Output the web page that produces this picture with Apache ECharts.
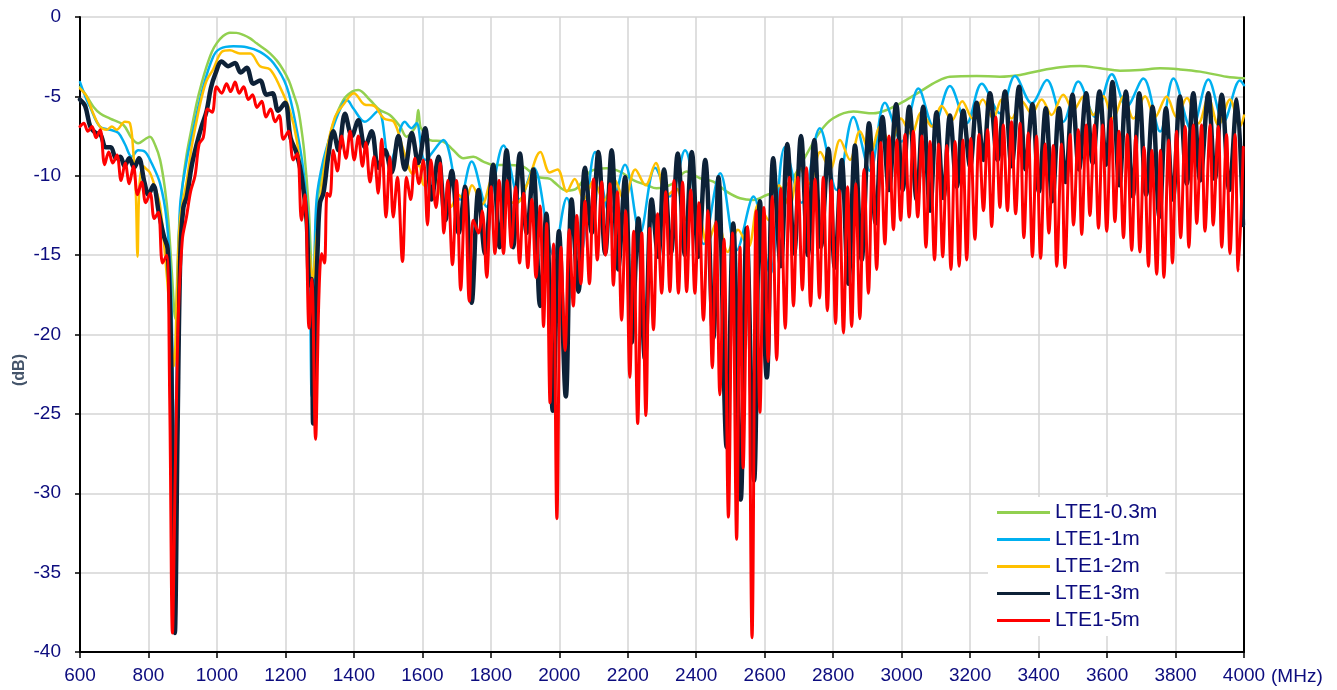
<!DOCTYPE html>
<html>
<head>
<meta charset="utf-8">
<title>LTE1 cable loss</title>
<script src="https://cdn.jsdelivr.net/npm/echarts@6/dist/echarts.min.js"></script>
<style>
  html, body { margin: 0; padding: 0; background: #fff; }
  #chart { width: 1337px; height: 690px; }
</style>
</head>
<body>
<div id="chart"></div>
<script>
// Frequency axis ticks (MHz) and level axis ticks (dB)
const xTicks = { min: 600, max: 4000, step: 200 };
const yTicks = { min: -40, max: 0, step: 5 };

const seriesNames = ['LTE1-0.3m', 'LTE1-1m', 'LTE1-2m', 'LTE1-3m', 'LTE1-5m'];

// Each series: [frequency MHz, level dB]
const lte03m = [[600,-4.4],[620,-5.0],[639,-5.65],[660,-6.1],[688,-6.4],[727,-6.8],[750,-7.6],[770,-7.96],[790,-7.7],[804,-7.54],[820,-8.1],[834,-9.0],[848,-10.8],[858,-12.8],[868,-16],[878,-19],[888,-14],[900,-10.5],[912,-8.6],[926,-7.0],[941,-5.4],[955,-4.2],[970,-3.1],[985,-2.2],[999,-1.66],[1018,-1.2],[1038,-0.99],[1057,-1.0],[1077,-1.13],[1097,-1.35],[1116,-1.66],[1135,-1.95],[1155,-2.29],[1175,-2.75],[1194,-3.34],[1210,-4.0],[1223,-4.8],[1235,-5.6],[1243,-6.5],[1255,-8.5],[1268,-12],[1280,-17],[1292,-12],[1305,-10],[1320,-8.5],[1340,-6.7],[1369,-5.23],[1395,-4.7],[1413,-4.6],[1447,-5.23],[1476,-5.86],[1505,-6.17],[1535,-6.9],[1554,-7.54],[1574,-7.12],[1582,-6.8],[1588,-5.86],[1594,-6.9],[1600,-7.12],[1622,-7.75],[1661,-7.85],[1690,-8.38],[1720,-8.9],[1749,-8.8],[1778,-9.11],[1807,-9.32],[1856,-9.32],[1895,-9.43],[1934,-10.06],[1973,-10.2],[1983,-10.37],[2022,-10.94],[2051,-10.79],[2090,-9.74],[2138,-9.53],[2177,-9.74],[2216,-10.27],[2255,-10.58],[2284,-10.79],[2333,-10.48],[2372,-9.74],[2411,-10.16],[2450,-10.37],[2489,-11.0],[2528,-11.42],[2567,-11.53],[2606,-11.21],[2645,-10.9],[2680,-10.2],[2713,-9.0],[2762,-7.22],[2800,-6.38],[2859,-5.96],[2917,-6.07],[2956,-5.86],[3005,-5.33],[3054,-4.7],[3102,-4.07],[3141,-3.76],[3219,-3.72],[3287,-3.76],[3346,-3.65],[3404,-3.38],[3463,-3.17],[3521,-3.09],[3580,-3.23],[3638,-3.38],[3696,-3.34],[3755,-3.23],[3813,-3.3],[3872,-3.44],[3949,-3.76],[4000,-3.86]];

const lte1m = [[600,-4.1],[619,-5.2],[629,-5.65],[658,-6.9],[688,-7.1],[712,-7.3],[731,-8.0],[751,-8.8],[770,-8.4],[790,-8.5],[809,-9.2],[834,-10.5],[853,-12.8],[866,-17],[876,-29],[884,-20],[892,-12.0],[912,-9.0],[931,-7.1],[960,-4.4],[989,-2.5],[1009,-2.0],[1048,-1.85],[1087,-1.9],[1126,-2.2],[1165,-2.9],[1204,-4.4],[1233,-7.1],[1252,-9.6],[1268,-13.5],[1277,-23.9],[1285,-16],[1291,-11.5],[1311,-9.0],[1340,-6.9],[1369,-5.4],[1380,-5.25],[1398,-5.75],[1432,-6.6],[1471,-5.9],[1505,-9.2],[1549,-6.6],[1568,-7.0],[1583,-6.7],[1608,-9.0],[1661,-7.75],[1710,-11.5],[1744,-9.1],[1788,-11.95],[1837,-8.1],[1885,-11.5],[1925,-9.5],[1983,-15.0],[2022,-11.4],[2060,-15.1],[2105,-8.5],[2148,-12.4],[2192,-9.3],[2236,-13.6],[2280,-9.5],[2323,-11.3],[2367,-8.4],[2421,-14.3],[2470,-9.85],[2518,-14.7],[2567,-11.3],[2616,-16.2],[2659,-8.2],[2708,-11.7],[2761,-7.0],[2810,-10.9],[2859,-6.3],[2908,-9.7],[2951,-5.4],[3000,-7.85],[3049,-4.5],[3093,-6.9],[3141,-4.35],[3190,-6.7],[3234,-4.2],[3287,-6.07],[3331,-3.72],[3380,-5.44],[3424,-3.97],[3472,-6.6],[3516,-4.07],[3565,-6.28],[3614,-3.6],[3657,-5.65],[3706,-3.87],[3755,-7.22],[3794,-3.87],[3847,-7.12],[3896,-3.93],[3940,-6.6],[3988,-4.0],[4000,-4.3]];

const lte2m = [[600,-4.5],[619,-5.0],[639,-6.1],[658,-6.9],[678,-7.1],[693,-6.9],[707,-7.1],[731,-6.6],[746,-6.7],[756,-8.6],[763,-11],[768,-15.1],[774,-10.5],[785,-9.4],[795,-9.6],[804,-9.8],[819,-10.7],[834,-11.9],[848,-14.9],[860,-18],[874,-22],[884,-17],[892,-12.8],[912,-10.3],[926,-8.2],[941,-6.5],[955,-5.1],[970,-4.0],[989,-3.3],[1014,-2.2],[1038,-2.1],[1067,-2.3],[1097,-2.3],[1126,-3.1],[1155,-3.3],[1184,-4.4],[1213,-5.9],[1233,-7.75],[1252,-11.1],[1268,-14.5],[1280,-16.5],[1290,-14],[1300,-12],[1320,-8.5],[1345,-6.3],[1370,-5.5],[1400,-4.8],[1430,-5.5],[1459,-5.6],[1488,-6.4],[1517,-6.6],[1545,-8.4],[1573,-9.9],[1590,-9.3],[1605,-10.6],[1630,-9.9],[1660,-11.5],[1681,-12.0],[1705,-11.2],[1725,-11.6],[1745,-10.6],[1775,-11.8],[1805,-10.2],[1840,-11.6],[1876,-11.7],[1905,-10.6],[1945,-8.5],[1972,-9.8],[1995,-9.6],[2022,-11.0],[2045,-10.2],[2072,-11.5],[2100,-10.3],[2130,-11.6],[2160,-10.2],[2190,-11.6],[2222,-9.6],[2252,-10.6],[2282,-9.2],[2312,-11.3],[2342,-10.8],[2372,-12.8],[2402,-12.0],[2432,-14.3],[2462,-12.8],[2492,-14.8],[2522,-13.4],[2552,-14.5],[2582,-11.8],[2612,-12.8],[2642,-10.6],[2672,-11.9],[2702,-9.5],[2732,-10.5],[2762,-8.5],[2791,-9.6],[2820,-7.75],[2849,-9.0],[2878,-7.2],[2908,-8.6],[2938,-6.9],[2968,-8.0],[2998,-6.4],[3028,-7.4],[3058,-6.0],[3088,-6.9],[3117,-5.6],[3147,-6.5],[3177,-5.3],[3207,-6.4],[3237,-5.2],[3267,-6.4],[3292,-5.2],[3321,-6.4],[3351,-5.3],[3380,-6.07],[3409,-5.2],[3438,-6.17],[3472,-4.9],[3502,-5.86],[3531,-5.0],[3560,-6.17],[3589,-5.0],[3618,-6.4],[3648,-5.0],[3677,-6.4],[3711,-5.0],[3740,-6.3],[3774,-5.0],[3803,-6.3],[3833,-5.1],[3867,-6.7],[3896,-5.1],[3925,-6.8],[3959,-5.2],[3988,-6.9],[4000,-6.2]];

const lte3m = [[600,-5.2],[615,-5.6],[630,-6.9],[645,-7.3],[660,-7.4],[675,-8.2],[690,-8.2],[705,-8.9],[718,-8.8],[730,-9.4],[744,-8.9],[758,-9.5],[772,-8.9],[788,-10.4],[800,-11.2],[814,-10.6],[830,-12.3],[845,-13.8],[856,-14.6],[866,-21],[877,-38.8],[885,-26],[893,-15],[902,-12.0],[912,-11.3],[926,-9.4],[941,-8.0],[955,-6.9],[970,-5.9],[982,-4.5],[995,-3.6],[1014,-2.8],[1033,-3.1],[1053,-2.9],[1069,-3.5],[1087,-3.2],[1106,-4.2],[1126,-4.0],[1145,-4.9],[1162,-4.8],[1179,-5.9],[1199,-5.4],[1215,-7.6],[1233,-8.6],[1248,-10.1],[1262,-12.8],[1270,-16.9],[1276,-16.5],[1281,-25.6],[1288,-19],[1295,-14],[1301,-11.7],[1311,-11.1],[1325,-8.8],[1340,-7.2],[1355,-8.4],[1374,-6.1],[1394,-7.5],[1413,-6.5],[1432,-8.2],[1452,-7.2],[1471,-9.5],[1491,-8.4],[1510,-9.8],[1530,-7.5],[1549,-9.6],[1569,-7.3],[1588,-9.2],[1608,-7.0],[1627,-11.5],[1647,-8.8],[1667,-12.8],[1686,-9.7],[1706,-13.6],[1725,-10.7],[1744,-18.0],[1764,-10.9],[1783,-14.9],[1807,-9.3],[1826,-14.5],[1846,-8.4],[1865,-14.5],[1885,-8.6],[1905,-13.6],[1924,-9.6],[1944,-18.2],[1962,-12.4],[1981,-24.8],[1999,-13.5],[2019,-23.9],[2036,-11.5],[2056,-17.3],[2075,-9.5],[2095,-13.6],[2114,-8.5],[2134,-14.9],[2153,-8.4],[2172,-15.9],[2192,-10.1],[2211,-20.5],[2231,-12.7],[2250,-21.5],[2270,-11.5],[2289,-15.1],[2306,-9.6],[2326,-14.9],[2346,-8.6],[2367,-15.0],[2387,-8.5],[2406,-15.1],[2426,-9.0],[2450,-20.2],[2465,-10.1],[2489,-27.1],[2508,-13.0],[2530,-30.4],[2547,-13.3],[2569,-29.2],[2586,-11.6],[2606,-22.7],[2625,-8.9],[2647,-15.7],[2666,-8.0],[2686,-14.9],[2706,-7.5],[2726,-15.0],[2745,-7.75],[2764,-14.5],[2786,-8.3],[2805,-15.8],[2825,-9.0],[2844,-16.8],[2864,-8.1],[2883,-15.3],[2905,-6.7],[2924,-13.0],[2944,-6.3],[2963,-10.9],[2984,-5.5],[3003,-10.9],[3022,-5.65],[3044,-11.5],[3063,-5.65],[3083,-12.2],[3102,-6.0],[3122,-11.4],[3141,-6.2],[3161,-10.7],[3180,-5.9],[3200,-9.4],[3219,-5.4],[3239,-9.0],[3258,-4.8],[3280,-9.0],[3302,-4.7],[3321,-9.4],[3343,-4.4],[3362,-9.6],[3382,-5.5],[3401,-11.0],[3421,-5.75],[3440,-11.6],[3460,-5.75],[3479,-10.4],[3499,-4.9],[3518,-9.6],[3539,-4.8],[3558,-9.2],[3578,-4.7],[3597,-9.3],[3616,-4.1],[3636,-10.6],[3655,-4.7],[3675,-11.3],[3694,-4.8],[3714,-11.2],[3733,-5.65],[3753,-12.6],[3772,-5.75],[3792,-11.5],[3813,-5.0],[3833,-10.5],[3852,-4.8],[3872,-10.3],[3896,-4.8],[3915,-10.2],[3935,-4.9],[3957,-10.9],[3979,-5.2],[3997,-13.1]];

const lte5m = [[600,-6.9],[611,-6.7],[623,-7.2],[635,-6.9],[647,-7.6],[659,-7.1],[672,-9.3],[684,-8.5],[696,-9.2],[708,-8.7],[720,-10.3],[732,-9.2],[744,-10.5],[756,-9.4],[768,-11.2],[780,-10.4],[792,-11.7],[805,-11.1],[817,-12.7],[829,-12.3],[841,-15.5],[853,-15.0],[862,-24],[870,-38.8],[878,-29],[887,-19],[899,-14.0],[911,-12.6],[923,-11.0],[936,-10.0],[948,-8.0],[960,-7.6],[973,-5.8],[986,-6.0],[999,-4.4],[1014,-4.8],[1028,-4.2],[1040,-4.7],[1053,-4.1],[1065,-4.8],[1078,-4.4],[1092,-5.2],[1104,-4.9],[1117,-5.7],[1131,-5.3],[1143,-6.3],[1157,-5.8],[1170,-6.6],[1182,-6.2],[1194,-7.7],[1209,-7.2],[1223,-9.0],[1235,-8.6],[1247,-12.8],[1257,-11.2],[1269,-19.6],[1277,-16.5],[1288,-26.6],[1298,-17.5],[1306,-14.9],[1314,-15.5],[1322,-11.1],[1330,-11.3],[1340,-8.4],[1352,-9.7],[1364,-7.5],[1377,-8.9],[1389,-7.2],[1401,-9.0],[1413,-7.5],[1425,-9.4],[1435,-7.9],[1447,-10.4],[1459,-8.8],[1471,-11.1],[1481,-7.7],[1494,-12.6],[1505,-8.8],[1515,-12.6],[1527,-10.1],[1542,-15.4],[1554,-10.1],[1566,-11.5],[1578,-8.9],[1590,-10.5],[1603,-9.0],[1615,-13.1],[1625,-9.0],[1640,-12.0],[1652,-9.2],[1663,-13.6],[1674,-10.3],[1688,-15.6],[1700,-10.3],[1712,-17.2],[1725,-10.9],[1737,-17.9],[1749,-12.8],[1764,-13.6],[1775,-12.2],[1788,-16.4],[1801,-10.7],[1812,-14.9],[1824,-10.3],[1837,-14.9],[1848,-10.3],[1860,-14.5],[1872,-10.7],[1884,-15.5],[1896,-11.1],[1908,-15.8],[1920,-11.5],[1932,-16.4],[1944,-11.9],[1954,-19.5],[1963,-13.0],[1973,-24.3],[1983,-14.3],[1993,-31.6],[2005,-14.5],[2017,-21.0],[2029,-13.4],[2041,-18.2],[2051,-12.5],[2063,-16.8],[2075,-11.6],[2088,-16.8],[2100,-10.2],[2111,-15.3],[2124,-10.4],[2135,-15.0],[2148,-10.5],[2158,-16.9],[2170,-11.0],[2182,-19.1],[2194,-12.2],[2206,-22.7],[2217,-13.5],[2229,-25.6],[2241,-13.6],[2253,-25.1],[2264,-13.3],[2275,-19.7],[2287,-12.4],[2299,-17.4],[2311,-11.0],[2323,-17.3],[2335,-10.3],[2348,-17.4],[2360,-10.4],[2372,-17.3],[2384,-10.9],[2396,-17.4],[2408,-11.7],[2421,-19.1],[2434,-12.2],[2447,-22.1],[2458,-12.9],[2469,-23.8],[2481,-14.0],[2494,-31.5],[2506,-13.6],[2518,-32.9],[2528,-14.5],[2537,-28.4],[2550,-13.2],[2563,-39.1],[2575,-12.2],[2586,-24.9],[2598,-12.0],[2610,-21.7],[2622,-11.3],[2635,-21.6],[2647,-10.8],[2660,-19.6],[2672,-10.1],[2684,-18.2],[2697,-10.1],[2710,-17.2],[2722,-9.5],[2734,-18.2],[2747,-10.2],[2760,-17.7],[2771,-10.1],[2783,-18.5],[2795,-10.3],[2807,-19.3],[2818,-10.9],[2830,-19.9],[2842,-10.7],[2854,-19.5],[2866,-10.5],[2878,-19.0],[2890,-9.6],[2903,-17.4],[2915,-8.5],[2927,-15.9],[2939,-7.9],[2951,-14.3],[2963,-7.5],[2976,-13.4],[2986,-7.75],[2997,-12.8],[3010,-7.4],[3022,-12.6],[3034,-7.2],[3047,-12.6],[3059,-7.5],[3071,-14.5],[3083,-7.85],[3096,-15.3],[3108,-8.0],[3120,-15.1],[3132,-8.1],[3144,-15.9],[3156,-7.85],[3168,-15.7],[3179,-7.75],[3190,-15.3],[3202,-7.65],[3214,-14.0],[3226,-7.4],[3239,-12.2],[3251,-7.1],[3263,-13.2],[3275,-6.3],[3287,-12.0],[3297,-6.8],[3309,-12.2],[3321,-6.6],[3333,-12.4],[3346,-6.7],[3357,-13.9],[3370,-7.3],[3382,-15.1],[3394,-7.5],[3406,-15.2],[3419,-8.0],[3430,-13.6],[3443,-8.1],[3453,-15.7],[3467,-8.0],[3477,-15.8],[3492,-7.4],[3502,-13.1],[3516,-7.1],[3526,-13.7],[3539,-6.8],[3550,-12.5],[3563,-6.8],[3575,-13.3],[3587,-6.8],[3599,-13.5],[3612,-6.4],[3623,-12.9],[3635,-7.2],[3648,-13.9],[3659,-7.4],[3672,-14.7],[3684,-7.5],[3696,-14.8],[3708,-8.2],[3721,-15.7],[3731,-8.4],[3745,-16.2],[3756,-8.4],[3766,-16.4],[3780,-7.75],[3791,-15.5],[3803,-7.2],[3815,-13.9],[3828,-6.9],[3839,-14.5],[3852,-6.8],[3862,-13.0],[3876,-6.8],[3886,-13.5],[3901,-6.8],[3910,-13.1],[3925,-6.9],[3935,-14.5],[3949,-7.4],[3959,-14.9],[3974,-7.4],[3983,-16.0],[3998,-8.2]];

const seriesData = [lte03m, lte1m, lte2m, lte3m, lte5m];
const seriesColors = ['#92D050', '#00B0F0', '#FFC000', '#0D2137', '#FF0000'];
const seriesWidths = [2.5, 2.5, 2.5, 4.5, 3];

const FONT = "'Liberation Sans', Arial, sans-serif";
const NAVY = '#0C0C7E';

const chart = echarts.init(document.getElementById('chart'), null, { renderer: 'canvas' });

chart.setOption({
  animation: false,
  backgroundColor: '#ffffff',
  grid: { left: 80, right: 93, top: 17, bottom: 38 },
  legend: {
    orient: 'vertical',
    left: 988,
    top: 497,
    padding: [5, 8, 5, 9],
    itemWidth: 53,
    itemHeight: 3,
    itemGap: 6,
    backgroundColor: '#ffffff',
    textStyle: { fontFamily: FONT, fontSize: 21, color: NAVY, lineHeight: 21 },
    data: seriesNames.map((name) => ({ name, icon: 'rect' }))
  },
  xAxis: {
    type: 'value',
    min: xTicks.min, max: xTicks.max, interval: xTicks.step,
    name: '(MHz)',
    nameLocation: 'end',
    nameGap: 22,
    nameTextStyle: { fontFamily: FONT, fontSize: 19, color: NAVY, verticalAlign: 'top', padding: [15, 0, 0, 0] },
    axisLine: { show: true, onZero: false, lineStyle: { color: '#000', width: 2 } },
    axisTick: { show: true, inside: false, length: 6, lineStyle: { color: '#000', width: 1.5 } },
    axisLabel: { fontFamily: FONT, fontSize: 19, color: NAVY, margin: 14, formatter: (v) => String(v) },
    splitLine: { show: true, lineStyle: { color: '#D4D4D4', width: 1.5 } }
  },
  yAxis: [{
    type: 'value',
    min: yTicks.min, max: yTicks.max, interval: yTicks.step,
    axisLine: { show: true, onZero: false, lineStyle: { color: '#000', width: 2 } },
    axisTick: { show: true, inside: false, length: 5, lineStyle: { color: '#000', width: 1.5 } },
    axisLabel: { fontFamily: FONT, fontSize: 19, color: NAVY, margin: 19, formatter: (v) => String(v) },
    splitLine: { show: true, lineStyle: { color: '#D4D4D4', width: 1.5 } }
  }, {
    type: 'value',
    position: 'right',
    min: yTicks.min, max: yTicks.max, interval: yTicks.step,
    axisLine: { show: true, onZero: false, lineStyle: { color: '#000', width: 2 } },
    axisTick: { show: false },
    axisLabel: { show: false },
    splitLine: { show: false }
  }],
  graphic: [{
    type: 'text',
    left: 12,
    top: 354,
    rotation: Math.PI / 2,
    style: { text: '(dB)', fontFamily: FONT, fontSize: 16, fontWeight: 'bold', fill: '#44546A' }
  }],
  series: seriesNames.map((name, i) => ({
    name,
    type: 'line',
    data: seriesData[i],
    symbol: 'none',
    smooth: 0.35,
    clip: true,
    color: seriesColors[i],
    lineStyle: { color: seriesColors[i], width: seriesWidths[i], join: 'round', cap: 'round' }
  }))
});
</script>
</body>
</html>
